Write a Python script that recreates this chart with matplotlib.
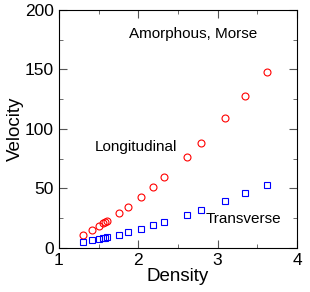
import matplotlib
matplotlib.use("Agg")
import matplotlib.pyplot as plt
from matplotlib.ticker import MultipleLocator

density = [1.30, 1.42, 1.50, 1.56, 1.58, 1.605, 1.756, 1.87, 2.04, 2.19,
           2.33, 2.61, 2.786, 3.088, 3.349, 3.622]
longitudinal = [10.9, 15.4, 18.2, 20.7, 21.8, 22.7, 29.1, 34.4, 43.1, 51.2,
                59.3, 76.1, 88.1, 108.8, 127.3, 148.0]
transverse = [4.8, 6.4, 7.3, 8.4, 8.7, 8.9, 11.2, 13.1, 15.9, 19.0,
              21.8, 27.7, 31.9, 39.4, 46.2, 53.1]


def main():
    plt.rcParams['font.family'] = ['Liberation Sans', 'DejaVu Sans']
    fig = plt.figure(figsize=(3.10, 2.92), dpi=100)
    ax = fig.add_axes([0.190, 0.151, 0.768, 0.815])

    ax.plot(density, longitudinal, 'o', ms=5, mfc='none', mec='red', mew=0.8)
    ax.plot(density, transverse, 's', ms=4.2, mfc='none', mec='blue', mew=0.8)

    ax.set_xlim(1, 4)
    ax.set_ylim(0, 200)
    ax.xaxis.set_major_locator(MultipleLocator(1))
    ax.xaxis.set_minor_locator(MultipleLocator(0.5))
    ax.yaxis.set_major_locator(MultipleLocator(50))
    ax.yaxis.set_minor_locator(MultipleLocator(25))
    ax.tick_params(which='both', direction='in', top=True, right=True,
                   labelsize=12.5, color='#555555')
    ax.tick_params(which='major', length=6)
    ax.tick_params(which='minor', length=3)

    ax.set_xlabel("Density", fontsize=13.5, labelpad=0)
    ax.set_ylabel("Velocity", fontsize=13.5, labelpad=1)

    ax.text(2.69, 180, "Amorphous, Morse", fontsize=11, ha='center', va='center')
    ax.text(1.975, 85, "Longitudinal", fontsize=11, ha='center', va='center')
    ax.text(3.32, 24, "Transverse", fontsize=11, ha='center', va='center')

    fig.savefig("out.png", dpi=100)


if __name__ == "__main__":
    main()
